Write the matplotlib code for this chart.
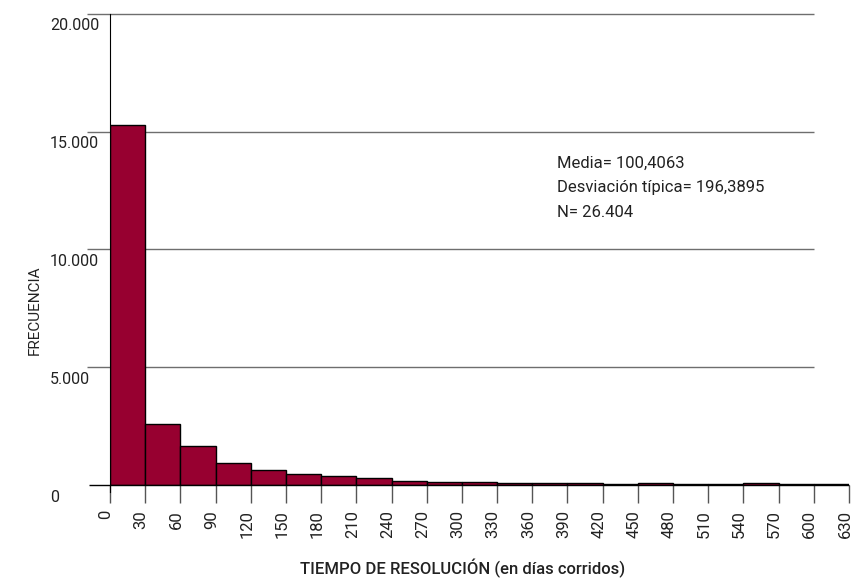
import matplotlib.pyplot as plt
import matplotlib.transforms as mtransforms
import numpy as np

plt.rcParams['font.family'] = ['Roboto', 'DejaVu Sans']

# histogram bins (days) and counts
bin_edges = list(range(0, 631, 30))
counts = [15290, 2590, 1660, 935, 620, 480, 395, 300, 170, 140, 110,
          70, 70, 70, 45, 70, 45, 45, 70, 45, 45]
y_ticks = [0, 5000, 10000, 15000, 20000]
y_labels = ['0', '5.000', '10.000', '15.000', '20.000']
stats_text = 'Media= 100,4063\nDesviación típica= 196,3895\nN= 26.404'

bar_color = '#970030'
text_color = '#222222'

fig = plt.figure(figsize=(8.53, 5.8), dpi=100)
ax = fig.add_axes([110/853, 1 - 485/580, 739/853, 471/580])

lefts = bin_edges[:-1]
ax.bar(lefts, counts, width=30, align='edge', color=bar_color,
       edgecolor='black', linewidth=1, zorder=3)

ax.set_xlim(0, 630)
ax.set_ylim(0, 20000)

# grid lines stick out a bit left of the axis
ax.hlines(y_ticks[1:], -19.5, 600, color='#6e6e6e', linewidth=1,
          clip_on=False, zorder=1)
ax.hlines(0, -18, 630, color='black', linewidth=1, clip_on=False, zorder=4)

for sp in ['top', 'right', 'bottom']:
    ax.spines[sp].set_visible(False)
ax.spines['left'].set_color('black')
ax.spines['left'].set_bounds(-300, 20000)
ax.spines['left'].set_zorder(5)

# y labels: left aligned, sitting just under each grid line
ax.set_yticks(y_ticks)
ax.set_yticklabels([])
ax.tick_params(axis='y', length=0)
for v, lab in zip(y_ticks, y_labels):
    ax.annotate(lab, xy=(0, v), xycoords=('axes fraction', 'data'),
                xytext=(-60, -12), textcoords='offset pixels',
                ha='left', va='center', fontsize=11.5, color=text_color)

ax.set_xticks(bin_edges)
ax.set_xticklabels([str(b) for b in bin_edges], rotation=90, fontsize=12,
                   color=text_color)
ax.tick_params(axis='x', length=13, width=1, color='#555555', pad=5)
shift = mtransforms.ScaledTranslation(-4/100, 0, fig.dpi_scale_trans)
for lbl in ax.get_xticklabels():
    lbl.set_transform(lbl.get_transform() + shift)

ax.set_ylabel('FRECUENCIA', fontsize=11, color=text_color)
ax.yaxis.set_label_coords(-0.092, 0.372)
ax.set_xlabel('TIEMPO DE RESOLUCIÓN (en días corridos)', fontsize=12,
              fontweight='medium', color=text_color)
ax.xaxis.set_label_coords(0.477, -0.157)

ax.text(0.6054, 0.6306, stats_text, transform=ax.transAxes, fontsize=12,
        linespacing=1.8, va='center', ha='left', color=text_color)

fig.savefig('out.png', dpi=100)
